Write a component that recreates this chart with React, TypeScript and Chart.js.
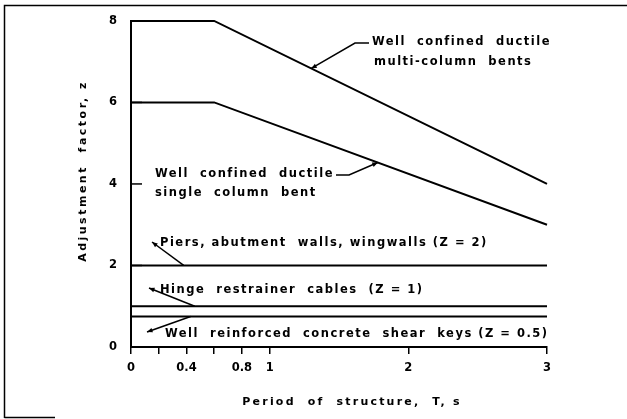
import React, { useEffect, useRef } from 'react';
import { Chart, registerables } from 'chart.js';

Chart.register(...registerables);

// ---- data ----
const periods = [0, 0.6, 3];
const multiColumnBents = [8, 8, 4];
const singleColumnBent = [6, 6, 3];
const flatPeriods = [0, 3];
const piersWalls = [2, 2];
const hingeCables = [1, 1];
const shearKeys = [0.75, 0.75];

const xTickValues = [0, 0.2, 0.4, 0.6, 0.8, 1, 2, 3];
const xTickLabels = ['0', '', '0.4', '', '0.8', '1', '2', '3'];
const yTickValues = [0, 2, 4, 6, 8];
const yTickLabels = ['0', '2', '4', '6', '8'];

const xTitle = 'Period  of  structure,  T, s';
const yTitle = 'Adjustment  factor, z';
const multiLabel = ['Well  confined  ductile', 'multi-column  bents'];
const singleLabel = ['Well  confined  ductile', 'single  column  bent'];
const piersLabel = 'Piers, abutment  walls, wingwalls (Z = 2)';
const hingeLabel = 'Hinge  restrainer  cables  (Z = 1)';
const shearLabel = 'Well  reinforced  concrete  shear  keys (Z = 0.5)';

const FONT = '"DejaVu Sans", sans-serif';

function interp(xs: number[], ys: number[], x: number) {
  for (let i = 0; i < xs.length - 1; i++) {
    if (x >= xs[i] && x <= xs[i + 1]) {
      const t = (x - xs[i]) / (xs[i + 1] - xs[i]);
      return ys[i] + t * (ys[i + 1] - ys[i]);
    }
  }
  return ys[ys.length - 1];
}

function toPts(xs: number[], ys: number[]) {
  return xs.map((x, i) => ({ x, y: ys[i] }));
}

function arrowHead(ctx: CanvasRenderingContext2D, fx: number, fy: number, tx: number, ty: number) {
  const a = Math.atan2(ty - fy, tx - fx);
  const L = 6;
  ctx.beginPath();
  ctx.moveTo(tx, ty);
  ctx.lineTo(tx - L * Math.cos(a - 0.4), ty - L * Math.sin(a - 0.4));
  ctx.lineTo(tx - L * Math.cos(a + 0.4), ty - L * Math.sin(a + 0.4));
  ctx.closePath();
  ctx.fill();
}

const decorPlugin = {
  id: 'decor',
  afterDraw(chart: any) {
    const ctx: CanvasRenderingContext2D = chart.ctx;
    const xs = chart.scales.x;
    const ys = chart.scales.y;
    const area = chart.chartArea;
    ctx.save();
    ctx.strokeStyle = '#000';
    ctx.fillStyle = '#000';

    // frame of the figure
    ctx.lineWidth = 1.5;
    ctx.beginPath();
    ctx.moveTo(627, 5.5);
    ctx.lineTo(4.5, 5.5);
    ctx.lineTo(4.5, 418);
    ctx.moveTo(4.5, 417.5);
    ctx.lineTo(55, 417.5);
    ctx.stroke();

    // inward y ticks
    ctx.lineWidth = 1.5;
    yTickValues.forEach((v) => {
      const py = ys.getPixelForValue(v);
      ctx.beginPath();
      ctx.moveTo(area.left, py);
      ctx.lineTo(area.left + 11, py);
      ctx.stroke();
    });

    ctx.textBaseline = 'middle';

    // axis titles
    ctx.font = `bold 11px ${FONT}`;
    ctx.textAlign = 'center';
    (ctx as any).letterSpacing = '2.2px';
    ctx.fillText(xTitle, 352, 402);
    (ctx as any).letterSpacing = '2.5px';
    ctx.save();
    ctx.translate(83, 171);
    ctx.rotate(-Math.PI / 2);
    ctx.fillText(yTitle, 0, 0);
    ctx.restore();

    ctx.textAlign = 'left';
    ctx.font = `bold 11.5px ${FONT}`;
    (ctx as any).letterSpacing = '1.5px';

    ctx.lineWidth = 1.5;
    // multi-column label
    ctx.fillText(multiLabel[0], 372, 42);
    ctx.fillText(multiLabel[1], 374, 62);
    {
      const xv = 1.3;
      const tx = xs.getPixelForValue(xv);
      const ty = ys.getPixelForValue(interp(periods, multiColumnBents, xv));
      ctx.beginPath();
      ctx.moveTo(369, 43);
      ctx.lineTo(355, 43);
      ctx.lineTo(tx, ty);
      ctx.stroke();
      arrowHead(ctx, 355, 43, tx, ty);
    }
    // single column label
    ctx.fillText(singleLabel[0], 155, 174);
    ctx.fillText(singleLabel[1], 155, 193);
    {
      const xv = 1.78;
      const tx = xs.getPixelForValue(xv);
      const ty = ys.getPixelForValue(interp(periods, singleColumnBent, xv));
      ctx.beginPath();
      ctx.moveTo(336, 175);
      ctx.lineTo(349, 175);
      ctx.lineTo(tx, ty);
      ctx.stroke();
      arrowHead(ctx, 349, 175, tx, ty);
    }
    // piers label
    ctx.fillText(piersLabel, 160, 243);
    {
      const tx = xs.getPixelForValue(0.38);
      const ty = ys.getPixelForValue(piersWalls[0]);
      ctx.beginPath();
      ctx.moveTo(tx, ty);
      ctx.lineTo(152, 242);
      ctx.stroke();
      arrowHead(ctx, tx, ty, 152, 242);
    }
    // hinge label
    ctx.fillText(hingeLabel, 160, 290);
    {
      const tx = xs.getPixelForValue(0.46);
      const ty = ys.getPixelForValue(hingeCables[0]);
      ctx.beginPath();
      ctx.moveTo(tx, ty);
      ctx.lineTo(149, 288);
      ctx.stroke();
      arrowHead(ctx, tx, ty, 149, 288);
    }
    // shear keys label
    ctx.fillText(shearLabel, 165, 334);
    {
      const tx = xs.getPixelForValue(0.43);
      const ty = ys.getPixelForValue(shearKeys[0]);
      ctx.beginPath();
      ctx.moveTo(tx, ty);
      ctx.lineTo(147, 332);
      ctx.stroke();
      arrowHead(ctx, tx, ty, 147, 332);
    }
    ctx.restore();
  },
};

export default function App() {
  const ref = useRef<HTMLCanvasElement>(null);
  useEffect(() => {
    document.body.style.margin = '0';
    const canvas = ref.current;
    if (!canvas) return;
    const lineDs = (label: string, xsArr: number[], ysArr: number[]) => ({
      label,
      data: toPts(xsArr, ysArr),
      borderColor: '#000',
      borderWidth: 2,
      pointRadius: 0,
      tension: 0,
      clip: false as any,
      fill: false,
    });
    const chart = new Chart(canvas, {
      type: 'line',
      data: {
        datasets: [
          lineDs('Well confined ductile multi-column bents', periods, multiColumnBents),
          lineDs('Well confined ductile single column bent', periods, singleColumnBent),
          lineDs('Piers, abutment walls, wingwalls', flatPeriods, piersWalls),
          lineDs('Hinge restrainer cables', flatPeriods, hingeCables),
          lineDs('Well reinforced concrete shear keys', flatPeriods, shearKeys),
        ],
      },
      options: {
        responsive: false,
        animation: false,
        devicePixelRatio: 1,
        layout: { padding: { left: 0, top: 19, right: 80, bottom: 0 } },
        plugins: { legend: { display: false }, tooltip: { enabled: false } },
        scales: {
          x: {
            type: 'linear',
            min: 0,
            max: 3,
            afterBuildTicks: (s: any) => {
              s.ticks = xTickValues.map((v) => ({ value: v }));
            },
            afterFit: (s: any) => {
              s.height = 72;
            },
            ticks: {
              autoSkip: false,
              maxRotation: 0,
              padding: 7,
              color: '#000',
              font: { family: FONT, size: 11.5, weight: 'bold' },
              callback: (v: any) => {
                const i = xTickValues.indexOf(Number(v));
                return i >= 0 ? xTickLabels[i] : '';
              },
            },
            grid: { drawOnChartArea: false, drawTicks: true, tickLength: 7, color: '#000', lineWidth: 1.5 },
            border: { display: true, color: '#000', width: 2 },
          },
          y: {
            type: 'linear',
            min: 0,
            max: 8,
            afterBuildTicks: (s: any) => {
              s.ticks = yTickValues.map((v) => ({ value: v }));
            },
            afterFit: (s: any) => {
              s.width = 131;
            },
            ticks: {
              padding: 14,
              color: '#000',
              font: { family: FONT, size: 11.5, weight: 'bold' },
              callback: (v: any) => {
                const i = yTickValues.indexOf(Number(v));
                return i >= 0 ? yTickLabels[i] : '';
              },
            },
            grid: { drawOnChartArea: false, drawTicks: false },
            border: { display: true, color: '#000', width: 2 },
          },
        },
      } as any,
      plugins: [decorPlugin],
    });
    return () => chart.destroy();
  }, []);
  return (
    <div style={{ width: 627, height: 419, background: '#fff' }}>
      <canvas ref={ref} width={627} height={419} style={{ display: 'block' }} />
    </div>
  );
}
